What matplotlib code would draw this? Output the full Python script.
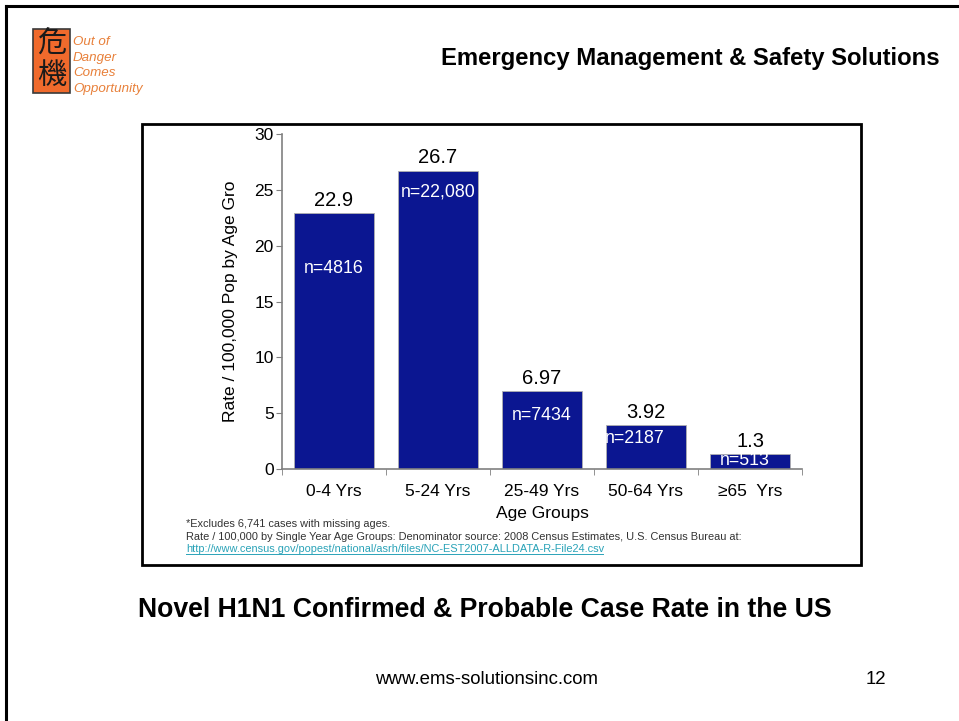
import matplotlib.pyplot as plt
from matplotlib.patches import Rectangle
from matplotlib.lines import Line2D

plt.rcParams['font.family'] = ['Liberation Sans', 'DejaVu Sans']

# data
age_groups = ['0-4 Yrs', '5-24 Yrs', '25-49 Yrs', '50-64 Yrs', '\u226565  Yrs']
rates = [22.9, 26.7, 6.97, 3.92, 1.3]
rate_labels = ['22.9', '26.7', '6.97', '3.92', '1.3']
case_counts = ['n=4816', 'n=22,080', 'n=7434', 'n=2187', 'n=513']
yticks = [0, 5, 10, 15, 20, 25, 30]

# where the n= labels sit relative to the bar top (pixels)
n_dx = [0, 0, 0, -11, -5]
n_dy = [-55, -21, -24, -13, -6]

W, H = 959, 721
fig = plt.figure(figsize=(W / 100, H / 100), dpi=100)


def fx(px):
    return px / W


def fy(py):
    return 1 - py / H


# slide border (left and top only)
fig.add_artist(Line2D([fx(6), fx(6)], [fy(6), 0], color='black', lw=2.2))
fig.add_artist(Line2D([fx(6), 1], [fy(6), fy(6)], color='black', lw=2.2))

# logo
fig.add_artist(Rectangle((fx(33), fy(93)), fx(70) - fx(33), fy(29) - fy(93),
                         facecolor='#f06a2c', edgecolor='#3a3a3a', lw=1.2))
fig.text(fx(51.5), fy(45), '危', ha='center', va='center', fontsize=21,
         family=['Noto Sans CJK JP'], color='#1a1a1a')
fig.text(fx(51.5), fy(76), '機', ha='center', va='center', fontsize=21,
         family=['Noto Sans CJK JP'], color='#1a1a1a')
for i, w in enumerate(['Out of', 'Danger', 'Comes', 'Opportunity']):
    fig.text(fx(73), fy(42 + i * 15.7), w, ha='left', va='center',
             fontsize=9.6, style='italic', color='#e8803a')

fig.text(fx(940), fy(58), 'Emergency Management & Safety Solutions',
         ha='right', va='center', fontsize=17.2, fontweight='bold')

# chart frame
fig.add_artist(Rectangle((fx(142), fy(565)), fx(861) - fx(142), fy(124) - fy(565),
                         facecolor='none', edgecolor='black', lw=2))

ax = fig.add_axes([fx(282), fy(469), fx(802) - fx(282), fy(134) - fy(469)])
x = range(len(age_groups))
bars = ax.bar(x, rates, width=0.77, color='#0b1691', edgecolor='#b0b0b0', linewidth=0.6)
ax.set_xlim(-0.5, len(age_groups) - 0.5)
ax.set_ylim(0, 30)
ax.set_yticks(yticks)
ax.set_xticks(x)
ax.set_xticklabels(age_groups, fontsize=12.5)
ax.set_xticks([i - 0.5 for i in range(len(age_groups) + 1)], minor=True)
ax.tick_params(axis='x', which='major', length=0, pad=11)
ax.tick_params(axis='x', which='minor', length=4, color='#808080')
ax.tick_params(axis='y', length=4, color='#808080', labelsize=12.5, pad=2)
for s in ['top', 'right']:
    ax.spines[s].set_visible(False)
for s in ['left', 'bottom']:
    ax.spines[s].set_color('#808080')
    ax.spines[s].set_linewidth(1.2)
ax.set_xlabel('Age Groups', fontsize=12.5, labelpad=5)
ax.set_ylabel('Rate / 100,000 Pop by Age Gro', fontsize=12.5, labelpad=12)

for i, b in enumerate(bars):
    top = b.get_height()
    ax.annotate(rate_labels[i], (b.get_x() + b.get_width() / 2, top),
                xytext=(0, 13), textcoords='offset pixels',
                ha='center', va='center', fontsize=14.5)
    ax.annotate(case_counts[i], (b.get_x() + b.get_width() / 2, top),
                xytext=(n_dx[i], n_dy[i]), textcoords='offset pixels',
                ha='center', va='center', fontsize=12.8, color='white',
                annotation_clip=False)

# footnotes
fig.text(fx(186), fy(524), '*Excludes 6,741 cases with missing ages.',
         fontsize=7.9, color='#333333', va='center')
fig.text(fx(186), fy(537),
         'Rate / 100,000 by Single Year Age Groups: Denominator source: 2008 Census Estimates, '
         'U.S. Census Bureau at:', fontsize=7.9, color='#333333', va='center')
fig.text(fx(186), fy(549),
         'http://www.census.gov/popest/national/asrh/files/NC-EST2007-ALLDATA-R-File24.csv',
         fontsize=7.9, color='#2aa3b8', va='center')
fig.add_artist(Line2D([fx(186), fx(603)], [fy(554), fy(554)], color='#2aa3b8', lw=0.7))

fig.text(fx(485), fy(610), 'Novel H1N1 Confirmed & Probable Case Rate in the US',
         ha='center', va='center', fontsize=19.2, fontweight='bold')
fig.text(fx(487), fy(680), 'www.ems-solutionsinc.com', ha='center', va='center', fontsize=13.4)
fig.text(fx(876), fy(680), '12', ha='center', va='center', fontsize=13.4)

fig.savefig('out.png', dpi=100)
